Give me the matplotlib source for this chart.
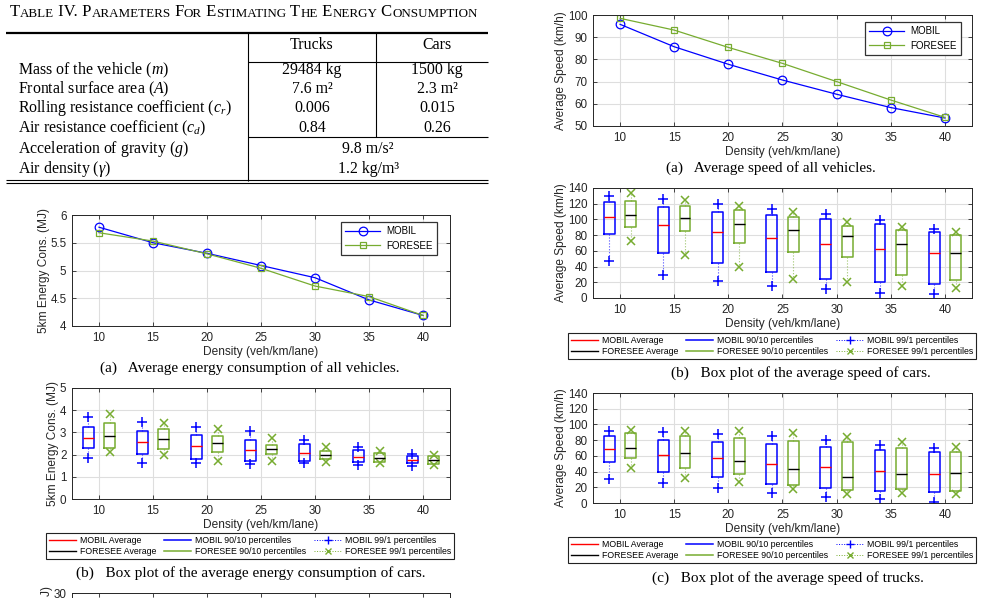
import matplotlib.pyplot as plt
from matplotlib.lines import Line2D

plt.rcParams['font.family'] = ['Liberation Sans', 'DejaVu Sans']
plt.rcParams['mathtext.fontset'] = 'custom'
plt.rcParams['mathtext.rm'] = 'Liberation Serif'
plt.rcParams['mathtext.it'] = 'Liberation Serif:italic'
plt.rcParams['mathtext.bf'] = 'Liberation Serif:bold'
plt.rcParams['mathtext.sf'] = 'Liberation Serif'

W, H = 985, 598
SERIF = ['Liberation Serif', 'DejaVu Serif']
BLUE, GREEN, RED, BLACK = '#0000ff', '#77ac30', '#ff0000', '#000000'
INK = '#262626'

# ---- table ----
title_parts = [('T', 'ABLE'), ('IV.', ''), ('P', 'ARAMETERS'), ('F', 'OR'), ('E', 'STIMATING'),
               ('T', 'HE'), ('E', 'NERGY'), ('C', 'ONSUMPTION')]
row_labels = ['Mass of the vehicle ($m$)', 'Frontal surface area ($A$)',
              'Rolling resistance coefficient ($c_r$)', 'Air resistance coefficient ($c_d$)',
              'Acceleration of gravity ($g$)', 'Air density ($\\gamma$)']
col_labels = ['Trucks', 'Cars']
trucks_vals = ['29484 kg', '7.6 m²', '0.006', '0.84']
cars_vals = ['1500 kg', '2.3 m²', '0.015', '0.26']
shared_vals = ['9.8 m/s²', '1.2 kg/m³']

# ---- data ----
density = [10, 15, 20, 25, 30, 35, 40]

energy_mobil = [5.78, 5.50, 5.31, 5.09, 4.87, 4.47, 4.19]
energy_foresee = [5.68, 5.53, 5.30, 5.04, 4.72, 4.53, 4.19]

speed_mobil = [95.8, 85.7, 77.8, 70.7, 64.3, 58.3, 53.6]
speed_foresee = [98.5, 93.2, 85.4, 78.2, 70.0, 61.7, 53.9]

# energy of cars: 99th, 90th, average, 10th, 1st percentiles
ec_mobil_p99 = [3.69, 3.47, 3.23, 3.05, 2.66, 2.36, 2.02]
ec_mobil_p90 = [3.26, 3.08, 2.87, 2.66, 2.46, 2.22, 1.92]
ec_mobil_avg = [2.76, 2.58, 2.37, 2.21, 2.07, 1.87, 1.74]
ec_mobil_p10 = [2.28, 2.02, 1.78, 1.71, 1.71, 1.66, 1.60]
ec_mobil_p1 = [1.84, 1.63, 1.60, 1.59, 1.60, 1.53, 1.48]
ec_foresee_p99 = [3.81, 3.44, 3.17, 2.73, 2.36, 2.16, 1.96]
ec_foresee_p90 = [3.41, 3.14, 2.85, 2.43, 2.16, 2.08, 1.92]
ec_foresee_avg = [2.84, 2.70, 2.51, 2.24, 1.96, 1.86, 1.74]
ec_foresee_p10 = [2.31, 2.24, 2.13, 2.02, 1.78, 1.66, 1.57]
ec_foresee_p1 = [2.13, 1.99, 1.71, 1.71, 1.68, 1.62, 1.54]

# speed of cars
sc_mobil_p99 = [130.3, 126.0, 120.1, 113.3, 107.3, 98.9, 88.2]
sc_mobil_p90 = [122.2, 116.2, 109.9, 105.6, 100.6, 94.2, 83.6]
sc_mobil_avg = [103.1, 92.5, 83.6, 76.4, 69.2, 62.4, 57.7]
sc_mobil_p10 = [81.0, 57.7, 44.5, 32.7, 24.6, 20.4, 17.8]
sc_mobil_p1 = [46.7, 28.9, 21.6, 14.8, 11.5, 5.9, 5.7]
sc_foresee_p99 = [133.2, 125.2, 117.5, 109.9, 96.7, 90.8, 83.6]
sc_foresee_p90 = [123.5, 117.5, 111.6, 102.7, 91.2, 86.6, 80.2]
sc_foresee_avg = [106.1, 101.4, 94.2, 87.0, 78.9, 68.3, 57.7]
sc_foresee_p10 = [89.9, 84.9, 70.0, 58.5, 51.8, 29.3, 23.3]
sc_foresee_p1 = [72.1, 55.2, 39.0, 24.6, 19.9, 15.3, 12.1]

# speed of trucks
st_mobil_p99 = [91.5, 90.7, 87.7, 85.6, 80.1, 73.8, 69.6]
st_mobil_p90 = [85.6, 79.7, 77.2, 74.7, 71.7, 67.9, 64.5]
st_mobil_avg = [69.2, 61.2, 57.4, 49.8, 45.6, 41.3, 37.5]
st_mobil_p10 = [52.7, 39.2, 32.5, 24.0, 18.6, 15.6, 13.9]
st_mobil_p1 = [30.8, 25.3, 19.0, 12.7, 7.2, 5.1, 1.7]
st_foresee_p99 = [92.8, 91.9, 91.1, 88.6, 84.4, 77.6, 71.7]
st_foresee_p90 = [88.6, 85.6, 83.1, 79.3, 78.0, 70.4, 65.4]
st_foresee_avg = [70.0, 63.7, 53.2, 43.4, 33.7, 36.7, 38.8]
st_foresee_p10 = [57.8, 45.1, 36.3, 23.2, 16.9, 17.7, 15.2]
st_foresee_p1 = [44.3, 32.1, 26.6, 17.7, 11.8, 12.2, 11.0]


def add_ax(fig, l, t, r, b):
    return fig.add_axes([l / W, 1 - b / H, (r - l) / W, (b - t) / H])


def style(ax, ylim, yticks, ylabel, xlabel=True):
    ax.set_xlim(7.5, 42.5)
    ax.set_xticks(density)
    ax.set_ylim(*ylim)
    ax.set_yticks(yticks)
    ax.yaxis.set_major_formatter('{x:g}')
    ax.grid(True, color='#dedede', lw=0.8)
    ax.set_axisbelow(True)
    ax.tick_params(direction='in', top=True, right=True, length=3, width=0.6,
                   labelsize=8.4, colors=INK, pad=4)
    for s in ax.spines.values():
        s.set_color(INK)
        s.set_linewidth(0.7)
    ax.set_ylabel(ylabel, fontsize=8.6, color=INK, labelpad=0.5)
    if xlabel:
        ax.set_xlabel('Density (veh/km/lane)', fontsize=8.6, color=INK, labelpad=2)
    else:
        ax.tick_params(labelbottom=False)


def line_chart(ax, mobil, foresee, ylim, yticks, ylabel, legend_anchor):
    ax.plot(density, mobil, color=BLUE, lw=0.9, marker='o', ms=6.2, mfc='none', mew=0.9, label='MOBIL')
    ax.plot(density, foresee, color=GREEN, lw=0.9, marker='s', ms=5, mfc='none', mew=0.9, label='FORESEE')
    style(ax, ylim, yticks, ylabel)
    leg = ax.legend(loc='upper right', bbox_to_anchor=legend_anchor, bbox_transform=fig.transFigure,
                    fontsize=7, fancybox=False, framealpha=1, edgecolor='#333333', borderaxespad=0,
                    handlelength=3.6, borderpad=0.45, labelspacing=0.45, handletextpad=0.6)
    leg.get_frame().set_linewidth(0.9)


def box_chart(ax, m, f, ylim, yticks, ylabel):
    for stats, off, col, med_col, mk, ms in [(m, -1, BLUE, RED, '+', 7.5), (f, 1, GREEN, BLACK, 'x', 5.5)]:
        p99, p90, avg, p10, p1 = stats
        bstats = [dict(med=a, q1=lo, q3=hi, whislo=w1, whishi=w9)
                  for a, lo, hi, w1, w9 in zip(avg, p10, p90, p1, p99)]
        pos = [d + off for d in density]
        ax.bxp(bstats, positions=pos, widths=1.0, showfliers=False, showcaps=False, manage_ticks=False,
               boxprops=dict(color=col, lw=1.1),
               whiskerprops=dict(color=col, lw=0.8, ls=':', alpha=0.7),
               medianprops=dict(color=med_col, lw=1.0))
        ax.plot(pos, p99, ls='none', marker=mk, color=col, ms=ms, mew=1.1)
        ax.plot(pos, p1, ls='none', marker=mk, color=col, ms=ms, mew=1.1)
    style(ax, ylim, yticks, ylabel)


def box_legend(center):
    handles = [Line2D([], [], color=RED, lw=1), Line2D([], [], color=BLACK, lw=1),
               Line2D([], [], color=BLUE, lw=1.1), Line2D([], [], color=GREEN, lw=1.1),
               Line2D([], [], color=BLUE, lw=0.7, ls=':', marker='+', ms=6, mew=1),
               Line2D([], [], color=GREEN, lw=0.7, ls=':', marker='x', ms=4.5, mew=1)]
    labels = ['MOBIL Average', 'FORESEE Average', 'MOBIL 90/10 percentiles',
              'FORESEE 90/10 percentiles', 'MOBIL 99/1 percentiles', 'FORESEE 99/1 percentiles']
    leg = fig.legend(handles, labels, ncol=3, loc='center', bbox_to_anchor=(center[0] / W, 1 - center[1] / H),
                     fontsize=6.3, fancybox=False, framealpha=1, edgecolor='#222222',
                     handlelength=3.1, borderpad=0.35, labelspacing=0.25, handletextpad=0.45,
                     columnspacing=0.9, borderaxespad=0)
    leg.get_frame().set_linewidth(0.8)


fig = plt.figure(figsize=(W / 100, H / 100), dpi=100)

# page overlay for the table and captions (pixel coordinates)
pg = fig.add_axes([0, 0, 1, 1], zorder=-1)
pg.set_xlim(0, W)
pg.set_ylim(H, 0)
pg.axis('off')

prev = None
for i, (big, small) in enumerate(title_parts):
    big_s = big if i == 0 else ' ' + big
    if prev is None:
        prev = pg.text(10, 20, big_s, fontsize=12, family=SERIF, va='bottom', ha='left')
    else:
        prev = pg.annotate(big_s, xy=(1, 0), xycoords=prev, fontsize=12, family=SERIF, va='bottom', ha='left')
    if small:
        prev = pg.annotate(small, xy=(1, 0), xycoords=prev, fontsize=9.4, family=SERIF, va='bottom', ha='left')

lk = dict(color='black', lw=0.8, solid_capstyle='butt')
pg.plot([6, 488], [33, 33], color='black', lw=1.6, solid_capstyle='butt')
pg.plot([248, 488], [62, 62], **lk)
pg.plot([248, 488], [137, 137], **lk)
pg.plot([248, 248], [33, 181], **lk)
pg.plot([376, 376], [33, 137], **lk)
pg.plot([6, 488], [179.5, 179.5], **lk)
pg.plot([6, 488], [182.5, 182.5], **lk)

tk = dict(fontsize=11.4, family=SERIF, va='baseline')
row_y = [74, 93, 112.5, 132, 153, 173]
pg.text(312, 49, col_labels[0], ha='center', **tk)
pg.text(437, 49, col_labels[1], ha='center', **tk)
for y, lab in zip(row_y, row_labels):
    pg.text(18, y, lab, ha='left', **tk)
for y, tv, cv in zip(row_y[:4], trucks_vals, cars_vals):
    pg.text(312, y, tv, ha='center', **tk)
    pg.text(437, y, cv, ha='center', **tk)
for y, sv in zip(row_y[4:], shared_vals):
    pg.text(368, y, sv, ha='center', **tk)

cap = dict(fontsize=11, family=SERIF, ha='center', va='center')
pg.text(250, 368, '(a)   Average energy consumption of all vehicles.', **cap)
pg.text(251, 573, '(b)   Box plot of the average energy consumption of cars.', **cap)
pg.text(771, 168, '(a)   Average speed of all vehicles.', **cap)
pg.text(801, 373, '(b)   Box plot of the average speed of cars.', **cap)
pg.text(788, 578, '(c)   Box plot of the average speed of trucks.', **cap)

# energy, all vehicles
ax1 = add_ax(fig, 72, 215, 450, 326)
line_chart(ax1, energy_mobil, energy_foresee, (4, 6), [4, 4.5, 5, 5.5, 6],
           '5km Energy Cons. (MJ)', (437 / W, 1 - 222 / H))

# energy, cars
ax2 = add_ax(fig, 72, 388, 450, 499)
box_chart(ax2, (ec_mobil_p99, ec_mobil_p90, ec_mobil_avg, ec_mobil_p10, ec_mobil_p1),
          (ec_foresee_p99, ec_foresee_p90, ec_foresee_avg, ec_foresee_p10, ec_foresee_p1),
          (0, 5), [0, 1, 2, 3, 4, 5], '5km Energy Cons. (MJ)')
box_legend((250, 546))

# next chart, cut off by the page edge
ax3 = add_ax(fig, 72, 593, 450, 704)
style(ax3, (0, 30), [0, 10, 20, 30], '5km Energy Cons. (MJ)', xlabel=False)

# speed, all vehicles
ax4 = add_ax(fig, 593, 15, 972, 126)
line_chart(ax4, speed_mobil, speed_foresee, (50, 100), [50, 60, 70, 80, 90, 100],
           'Average Speed (km/h)', (961 / W, 1 - 22 / H))

# speed, cars
ax5 = add_ax(fig, 593, 188, 972, 298)
box_chart(ax5, (sc_mobil_p99, sc_mobil_p90, sc_mobil_avg, sc_mobil_p10, sc_mobil_p1),
          (sc_foresee_p99, sc_foresee_p90, sc_foresee_avg, sc_foresee_p10, sc_foresee_p1),
          (0, 140), list(range(0, 141, 20)), 'Average Speed (km/h)')
box_legend((772, 346))

# speed, trucks
ax6 = add_ax(fig, 593, 393, 972, 503)
box_chart(ax6, (st_mobil_p99, st_mobil_p90, st_mobil_avg, st_mobil_p10, st_mobil_p1),
          (st_foresee_p99, st_foresee_p90, st_foresee_avg, st_foresee_p10, st_foresee_p1),
          (0, 140), list(range(0, 141, 20)), 'Average Speed (km/h)')
box_legend((772, 550))

fig.savefig('out.png', dpi=100)
